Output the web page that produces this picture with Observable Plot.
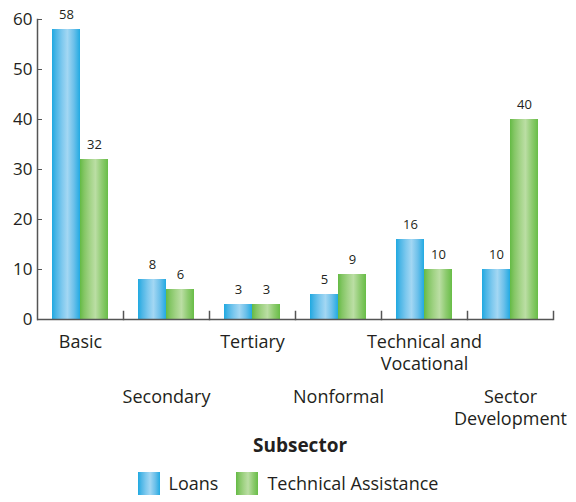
<!DOCTYPE html>
<html>
<head>
<meta charset="utf-8">
<script src="https://cdn.jsdelivr.net/npm/d3@7"></script>
<script src="https://cdn.jsdelivr.net/npm/@observablehq/plot@0.6"></script>
<style>
  body { margin: 0; background: #fff; font-family: "Open Sans", sans-serif; color: #231f20; }
  #wrap { width: 576px; }
  #xtitle { width: 576px; box-sizing: border-box; padding-left: 24px; text-align: center; font-weight: bold; font-size: 19px; height: 26px; line-height: 26px; }
  #legend { display: flex; justify-content: center; align-items: center; font-size: 18px; height: 40px; padding-top: 10px; box-sizing: border-box; }
  .sw { width: 22px; height: 23px; margin-right: 9px; }
  .item { display: flex; align-items: center; margin: 0 9px; }
</style>
</head>
<body>
<svg width="0" height="0" style="position:absolute">
  <defs>
    <linearGradient id="gBlue" x1="0" x2="1" y1="0" y2="0">
      <stop offset="0" stop-color="#1fa9e1"/>
      <stop offset="0.15" stop-color="#4db6e6"/>
      <stop offset="0.35" stop-color="#7cc8ee"/>
      <stop offset="0.55" stop-color="#a3d7f3"/>
      <stop offset="0.78" stop-color="#6cc0ea"/>
      <stop offset="1" stop-color="#22aae2"/>
    </linearGradient>
    <linearGradient id="gGreen" x1="0" x2="1" y1="0" y2="0">
      <stop offset="0" stop-color="#64ba44"/>
      <stop offset="0.15" stop-color="#84c665"/>
      <stop offset="0.35" stop-color="#a2d386"/>
      <stop offset="0.55" stop-color="#bbdea4"/>
      <stop offset="0.78" stop-color="#8ecb70"/>
      <stop offset="1" stop-color="#68bd47"/>
    </linearGradient>
  </defs>
</svg>
<div id="wrap"></div>
<script>
const categories = ["Basic", "Secondary", "Tertiary", "Nonformal", "Technical and\nVocational", "Sector\nDevelopment"];
const series = ["Loans", "Technical Assistance"];
const loans = [58, 8, 3, 5, 16, 10];
const technicalAssistance = [32, 6, 3, 9, 10, 40];
const yTicks = [0, 10, 20, 30, 40, 50, 60];
const xTitle = "Subsector";

const rows = categories.flatMap((c, i) => [
  {cat: c, series: series[0], value: loans[i]},
  {cat: c, series: series[1], value: technicalAssistance[i]}
]);
const upperLabels = categories.filter((d, i) => i % 2 === 0);
const lowerLabels = categories.filter((d, i) => i % 2 === 1);

const ink = "#231f20";
const axisColor = "#555";

const chart = Plot.plot({
  width: 576,
  height: 432,
  marginLeft: 36,
  marginRight: 22,
  marginTop: 19,
  marginBottom: 113,
  style: {fontFamily: "'Open Sans', sans-serif", fontSize: "17px", color: ink, background: "#fff"},
  fx: {domain: categories, paddingInner: 0, paddingOuter: 0, axis: null, label: null},
  x: {domain: series, paddingInner: 0, paddingOuter: 0.49, axis: null},
  y: {domain: [0, 60], axis: null},
  color: {domain: series, range: ["url(#gBlue)", "url(#gGreen)"]},
  marks: [
    Plot.barY(rows, {fx: "cat", x: "series", y: "value", fill: "series"}),
    Plot.text(rows, {fx: "cat", x: "series", y: "value", text: d => String(d.value), dy: -15, fontSize: 13, fill: ink}),
    Plot.ruleY([0], {stroke: axisColor, strokeWidth: 1.5}),
    Plot.frame({anchor: "left", facetAnchor: "left", stroke: axisColor, strokeWidth: 1.5}),
    Plot.frame({anchor: "right", insetTop: 292, stroke: axisColor, strokeWidth: 1.5}),
    Plot.axisY(yTicks, {tickSize: -5, tickPadding: 10, fontSize: 17, stroke: axisColor, fill: ink, label: null}),
    Plot.text(upperLabels, {fx: d => d, text: d => d, frameAnchor: "bottom", lineAnchor: "top", dy: 13, fontSize: 18, lineHeight: 1.22, fill: ink}),
    Plot.text(lowerLabels, {fx: d => d, text: d => d, frameAnchor: "bottom", lineAnchor: "top", dy: 68, fontSize: 18, lineHeight: 1.22, fill: ink})
  ]
});

const wrap = document.getElementById("wrap");
wrap.appendChild(chart);

const title = document.createElement("div");
title.id = "xtitle";
title.textContent = xTitle;
wrap.appendChild(title);

const legend = document.createElement("div");
legend.id = "legend";
series.forEach((s, i) => {
  const item = document.createElement("div");
  item.className = "item";
  const sw = document.createElement("div");
  sw.className = "sw";
  sw.style.background = i === 0
    ? "linear-gradient(to right, #1fa9e1, #4db6e6 15%, #7cc8ee 35%, #a3d7f3 55%, #6cc0ea 78%, #22aae2)"
    : "linear-gradient(to right, #64ba44, #84c665 15%, #a2d386 35%, #bbdea4 55%, #8ecb70 78%, #68bd47)";
  const lab = document.createElement("span");
  lab.textContent = s;
  item.appendChild(sw);
  item.appendChild(lab);
  legend.appendChild(item);
});
wrap.appendChild(legend);
</script>
</body>
</html>
